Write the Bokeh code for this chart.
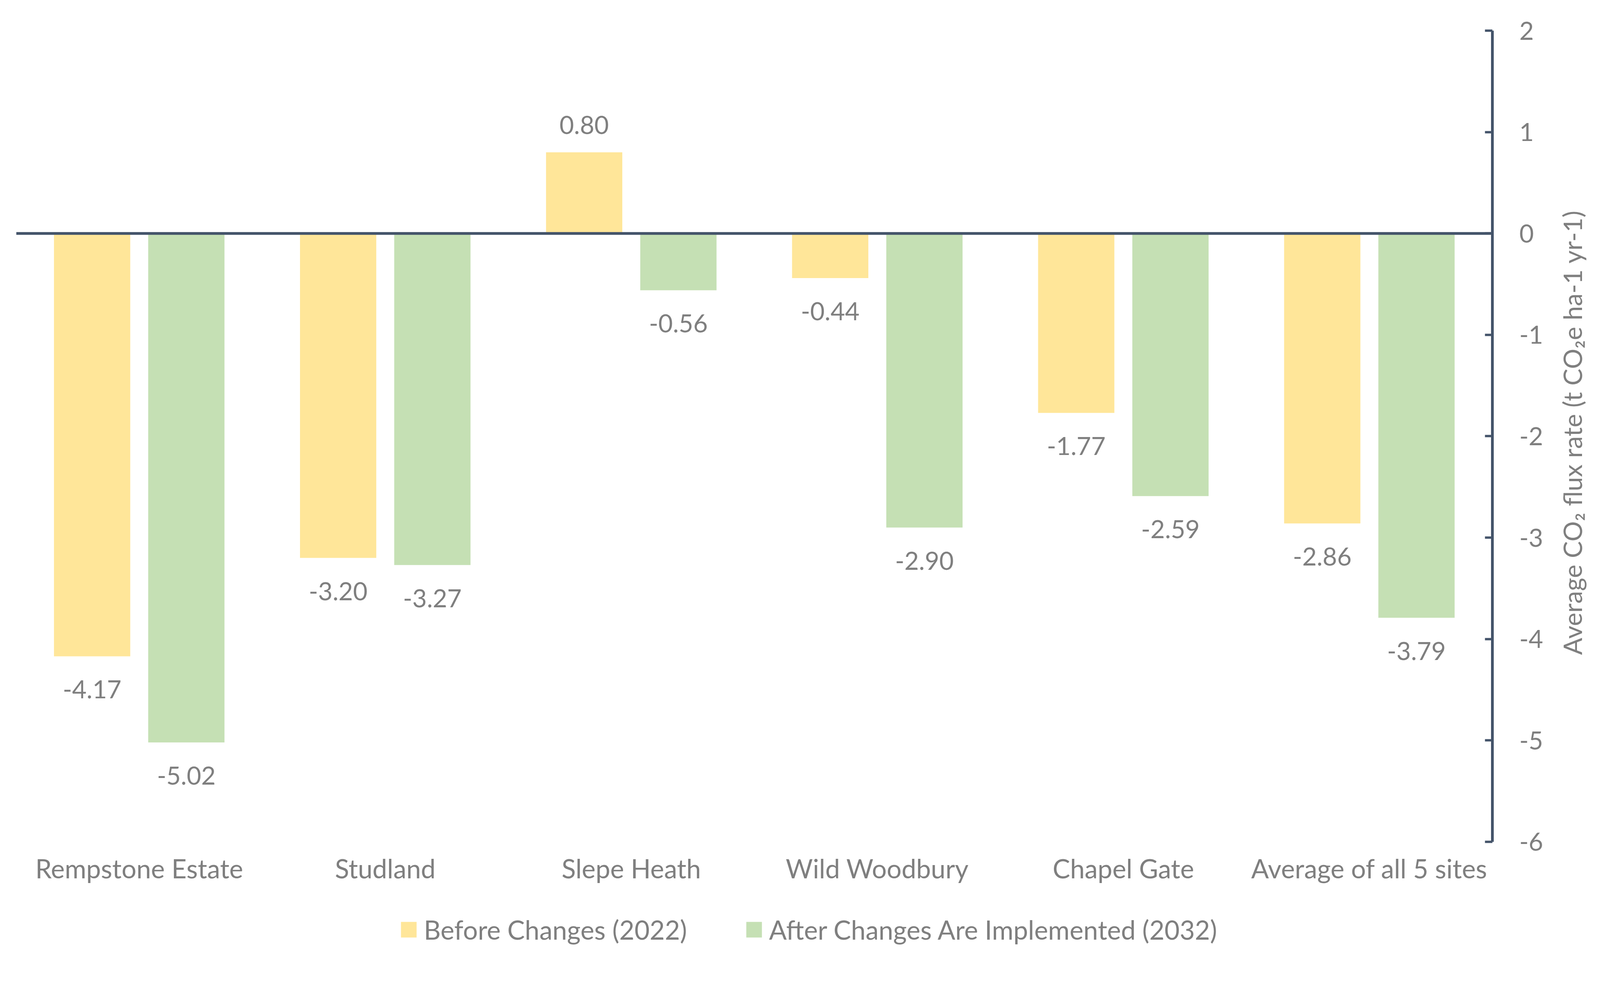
import math
from bokeh.plotting import figure
from bokeh.layouts import row
from bokeh.models import (FactorRange, Range1d, FixedTicker, Span, Label,
                          Legend, LegendItem, ColumnDataSource,
                          CustomJSTickFormatter)
from bokeh.transform import dodge
from bokeh.core.properties import value
from bokeh.embed import file_html
from bokeh.resources import INLINE

# ---------------- data ----------------
categories = ["Rempstone Estate", "Studland", "Slepe Heath", "Wild Woodbury",
              "Chapel Gate", "Average of all 5 sites"]
before_2022 = [-4.17, -3.20, 0.80, -0.44, -1.77, -2.86]
after_2032 = [-5.02, -3.27, -0.56, -2.90, -2.59, -3.79]
series_names = ["Before Changes (2022)", "After Changes Are Implemented (2032)"]
y_ticks = [-6, -5, -4, -3, -2, -1, 0, 1, 2]
y_axis_title = "Average CO\u2082 flux rate (t CO\u2082e ha-1 yr-1)"

# ---------------- styling ----------------
FONT = "Lato"
TEXT_COLOR = "#7f7f7f"
AXIS_COLOR = "#44546a"
YELLOW = "#ffe699"
GREEN = "#c5e0b4"
FS = "64px"

Y_MIN, Y_MAX = -6, 2
EXTRA = 1.04                      # room below the axis for labels + legend
UNIT = 2077 / 8                   # px per y unit
LEFT, TOP = 41, 78
FW = 3779
FH = int(round(UNIT * (Y_MAX - Y_MIN + EXTRA)))
RIGHT, BOTTOM = 140, 5
TOTAL_H = TOP + FH + BOTTOM
TITLE_W = 120


def offsets(vals):
    return [85 if v < 0 else -70 for v in vals]


src = ColumnDataSource(data=dict(
    cat=categories,
    before=before_2022,
    after=after_2032,
    before_lbl=[f"{v:.2f}" for v in before_2022],
    after_lbl=[f"{v:.2f}" for v in after_2032],
    before_off=offsets(before_2022),
    after_off=offsets(after_2032),
))

p = figure(x_range=FactorRange(factors=categories, range_padding=0),
           y_range=Range1d(Y_MIN - EXTRA, Y_MAX),
           frame_width=FW, frame_height=FH,
           output_backend="svg", toolbar_location=None,
           y_axis_location="right",
           min_border_left=LEFT, min_border_top=TOP,
           min_border_right=RIGHT, min_border_bottom=BOTTOM)

p.background_fill_color = "white"
p.border_fill_color = "white"
p.outline_line_color = None
p.xgrid.grid_line_color = None
p.ygrid.grid_line_color = None
p.xaxis.visible = False

OFF = 0.1915
BW = 0.31
r1 = p.vbar(x=dodge("cat", -OFF, range=p.x_range), top="before", width=BW,
            source=src, fill_color=YELLOW, line_color=None)
r2 = p.vbar(x=dodge("cat", OFF, range=p.x_range), top="after", width=BW,
            source=src, fill_color=GREEN, line_color=None)

for field, lbl, off, d in (("before", "before_lbl", "before_off", -OFF),
                           ("after", "after_lbl", "after_off", OFF)):
    p.text(x=dodge("cat", d, range=p.x_range), y=field, text=lbl, y_offset=off,
           source=src, text_align="center", text_baseline="middle",
           text_font=value(FONT), text_font_size=FS, text_color=TEXT_COLOR)

# category labels under the plot
p.text(x="cat", y=Y_MIN, text="cat", y_offset=68, source=src,
       text_align="center", text_baseline="middle",
       text_font=value(FONT), text_font_size="67px", text_color=TEXT_COLOR)

p.add_layout(Span(location=0, dimension="width", line_color=AXIS_COLOR,
                  line_width=7))

# y axis (right)
ya = p.yaxis[0]
ya.bounds = (Y_MIN, Y_MAX)
ya.ticker = FixedTicker(ticks=y_ticks)
ya.formatter = CustomJSTickFormatter(code="return tick.toFixed(0);")
ya.axis_line_color = AXIS_COLOR
ya.axis_line_width = 7
ya.major_tick_line_color = AXIS_COLOR
ya.major_tick_line_width = 6
ya.major_tick_in = 19
ya.major_tick_out = 0
ya.minor_tick_line_color = None
ya.major_label_standoff = 69
ya.major_label_text_font = FONT
ya.major_label_text_font_size = FS
ya.major_label_text_color = TEXT_COLOR

legend = Legend(items=[LegendItem(label=series_names[0], renderers=[r1]),
                       LegendItem(label=series_names[1], renderers=[r2])],
                orientation="horizontal", location=(980, 5),
                glyph_width=50, glyph_height=50, label_standoff=14, spacing=146,
                label_height=77, padding=0, margin=0,
                label_text_font=FONT, label_text_font_size="67px",
                label_text_color=TEXT_COLOR, border_line_color=None,
                background_fill_alpha=0)
p.add_layout(legend)

# narrow strip to the right holding the rotated y-axis title
t = figure(width=TITLE_W, height=TOTAL_H, x_range=Range1d(0, 1),
           y_range=Range1d(0, 1), x_axis_type=None, y_axis_type=None,
           output_backend="svg", toolbar_location=None,
           min_border=0, min_border_left=0, min_border_right=0,
           min_border_top=0, min_border_bottom=0)
t.outline_line_color = None
t.background_fill_color = "white"
t.border_fill_color = "white"
t.add_layout(Label(x=64, y=TOTAL_H - 1112, x_units="screen", y_units="screen",
                   text=y_axis_title, angle=math.pi / 2, text_align="center",
                   text_baseline="middle", text_font=FONT,
                   text_font_size="65px", text_color=TEXT_COLOR))

layout = row(p, t)
open("out.html", "w").write(file_html(layout, INLINE))
